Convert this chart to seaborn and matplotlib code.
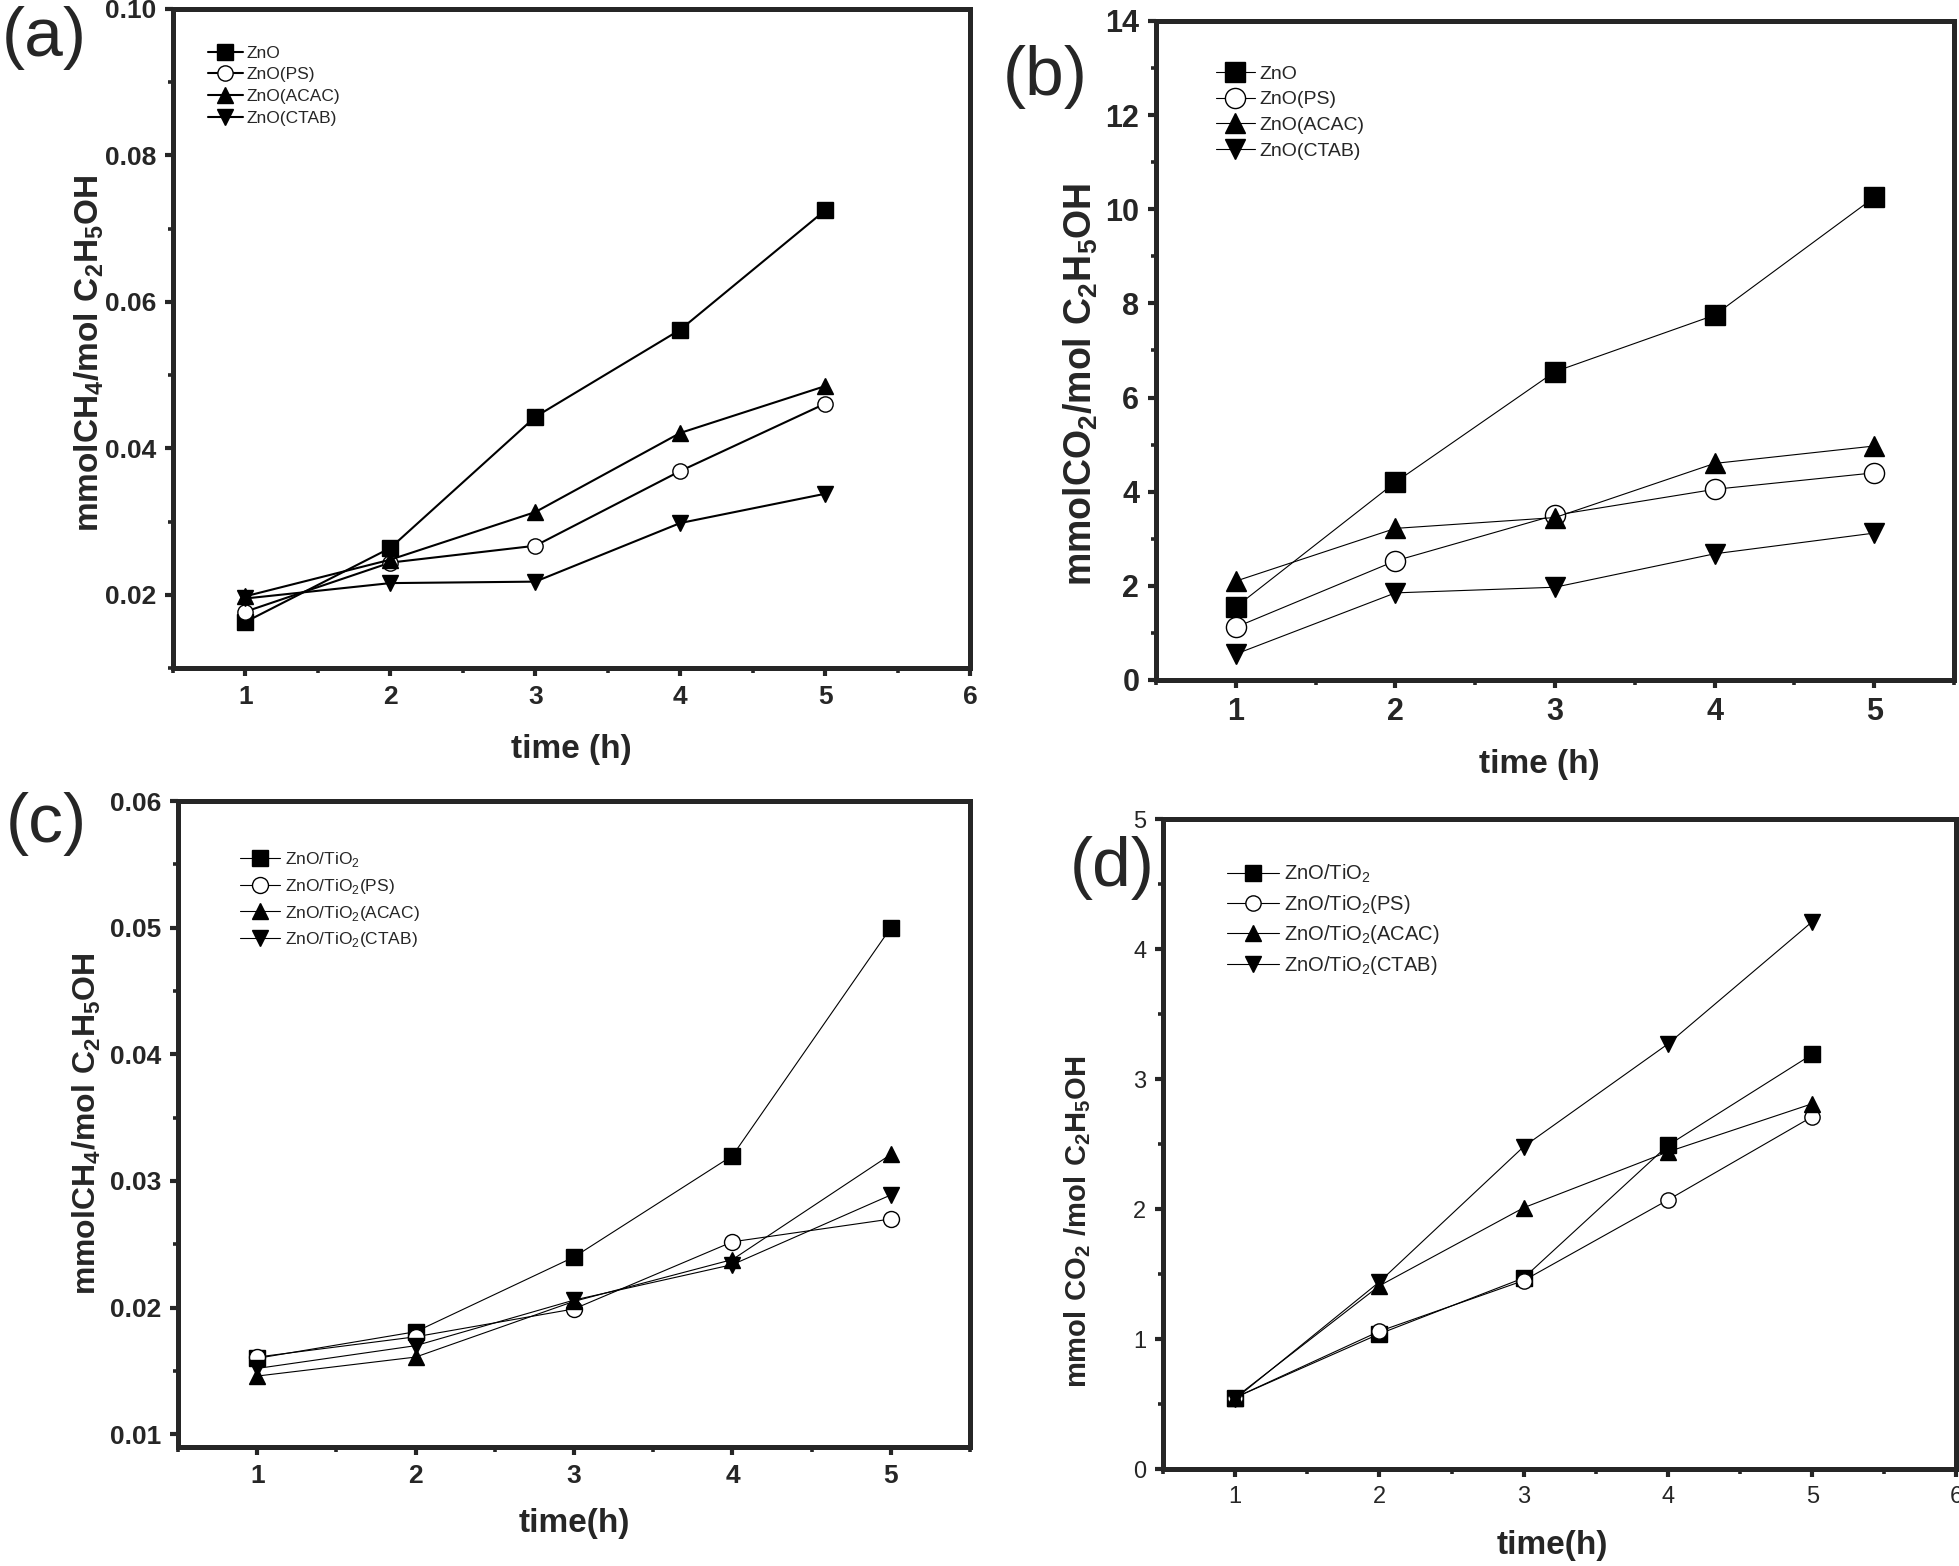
import numpy as np
import pandas as pd
import seaborn as sns
import matplotlib.pyplot as plt
from matplotlib.ticker import MultipleLocator, FormatStrFormatter

sns.set_style('ticks')
plt.rcParams['font.family'] = ['Liberation Sans', 'DejaVu Sans']
plt.rcParams['mathtext.fontset'] = 'custom'
plt.rcParams['mathtext.rm'] = 'Liberation Sans'
plt.rcParams['mathtext.bf'] = 'Liberation Sans:bold'
NARROW = ['Liberation Sans Narrow', 'Liberation Sans', 'DejaVu Sans']

time = [1, 2, 3, 4, 5]

# (a) CH4, ZnO samples
a_zno = [0.0163, 0.0264, 0.0443, 0.0562, 0.0725]
a_ps = [0.0177, 0.0244, 0.0267, 0.0369, 0.0461]
a_acac = [0.0198, 0.0248, 0.0313, 0.0421, 0.0485]
a_ctab = [0.0195, 0.0216, 0.0218, 0.0298, 0.0338]

# (b) CO2, ZnO samples
b_zno = [1.55, 4.20, 6.55, 7.75, 10.25]
b_ps = [1.12, 2.53, 3.50, 4.05, 4.40]
b_acac = [2.10, 3.22, 3.45, 4.60, 4.97]
b_ctab = [0.55, 1.85, 1.97, 2.68, 3.12]

# (c) CH4, ZnO/TiO2 samples
c_zno = [0.0160, 0.0181, 0.0240, 0.0320, 0.0500]
c_ps = [0.0161, 0.0177, 0.0199, 0.0252, 0.0270]
c_acac = [0.0146, 0.0161, 0.0205, 0.0238, 0.0321]
c_ctab = [0.0152, 0.0170, 0.0206, 0.0234, 0.0289]

# (d) CO2, ZnO/TiO2 samples
d_zno = [0.55, 1.04, 1.47, 2.49, 3.19]
d_ps = [0.55, 1.06, 1.45, 2.07, 2.71]
d_acac = [0.55, 1.41, 2.01, 2.44, 2.81]
d_ctab = [0.54, 1.44, 2.48, 3.27, 4.21]

zno_names = ['ZnO', 'ZnO(PS)', 'ZnO(ACAC)', 'ZnO(CTAB)']
tio_names = ['ZnO/TiO$_2$', 'ZnO/TiO$_2$(PS)', 'ZnO/TiO$_2$(ACAC)', 'ZnO/TiO$_2$(CTAB)']
markers = ['s', 'o', '^', 'v']
faces = ['black', 'white', 'black', 'black']

fig = plt.figure(figsize=(19.59, 15.66), dpi=100)


def panel(rect, series, names, ms, lw, xlim, ylim, ymaj, ymin, yfmt,
          ylabel, ylsize, ylpos, xlabel, xlpos, ticksize, tickbold,
          leg_anchor, leg_size, leg_space, leg_hl, tag, tag_xy):
    ax = fig.add_axes(rect)
    for vals, name, m, fc in zip(series, names, markers, faces):
        sns.lineplot(x=time, y=vals, ax=ax, color='black', lw=lw, marker=m,
                     markersize=ms, mfc=fc, mec='black', mew=1.0, label=name)
    ax.set_xlim(*xlim)
    ax.set_ylim(*ylim)
    ax.xaxis.set_major_locator(MultipleLocator(1))
    ax.xaxis.set_minor_locator(MultipleLocator(0.5))
    ax.yaxis.set_major_locator(MultipleLocator(ymaj))
    ax.yaxis.set_minor_locator(MultipleLocator(ymin))
    if yfmt:
        ax.yaxis.set_major_formatter(FormatStrFormatter(yfmt))
    for s in ax.spines.values():
        s.set_linewidth(3.6)
        s.set_visible(True)
    ax.tick_params(which='major', direction='out', length=6, width=3.0,
                   labelsize=ticksize, pad=6)
    ax.tick_params(which='minor', direction='out', length=3.5, width=2.6)
    for t in ax.get_xticklabels() + ax.get_yticklabels():
        t.set_family(NARROW)
        t.set_fontweight('bold' if tickbold else 'normal')
    ax.set_ylabel(ylabel, fontsize=ylsize, fontweight='bold')
    ax.yaxis.set_label_coords(*ylpos)
    ax.set_xlabel(xlabel, fontsize=24, fontweight='bold')
    ax.xaxis.set_label_coords(*xlpos)
    ax.legend(loc='upper left', bbox_to_anchor=leg_anchor, frameon=False,
              fontsize=leg_size, labelspacing=leg_space, handlelength=leg_hl,
              handletextpad=0.25, borderaxespad=0, numpoints=1)
    fig.text(tag_xy[0], tag_xy[1], tag, fontsize=50, ha='left', va='top')
    return ax


panel([0.0883, 0.5734, 0.4069, 0.4209], [a_zno, a_ps, a_acac, a_ctab], zno_names,
      11, 1.5, (0.5, 6), (0.01, 0.10), 0.02, 0.01, '%.2f',
      r'$\mathbf{mmolCH_4/mol\ C_2H_5OH}$', 24, (-0.084, 0.478),
      'time (h)', (0.5, -0.10), 19, True,
      (0.035, 0.955), 12.5, 0.38, 2.0, '(a)', (0.001, 0.996))

panel([0.5901, 0.5658, 0.4073, 0.4208], [b_zno, b_ps, b_acac, b_ctab], zno_names,
      14.5, 0.8, (0.5, 5.5), (0, 14), 2, 1, None,
      r'$\mathbf{mmolCO_2/mol\ C_2H_5OH}$', 27, (-0.070, 0.448),
      'time (h)', (0.48, -0.105), 22, True,
      (0.065, 0.945), 14, 0.42, 2.0, '(b)', (0.512, 0.971))

panel([0.0909, 0.0760, 0.4043, 0.4125], [c_zno, c_ps, c_acac, c_ctab], tio_names,
      11.5, 0.8, (0.5, 5.5), (0.009, 0.06), 0.01, 0.005, '%.2f',
      r'$\mathbf{mmolCH_4/mol\ C_2H_5OH}$', 23, (-0.095, 0.50),
      'time(h)', (0.5, -0.095), 19, True,
      (0.07, 0.935), 12.5, 0.45, 2.3, '(c)', (0.003, 0.494))

panel([0.5937, 0.0619, 0.4050, 0.4151], [d_zno, d_ps, d_acac, d_ctab], tio_names,
      11, 0.8, (0.5, 6), (0, 5), 1, 0.5, None,
      r'$\mathbf{mmol\ CO_2\ /mol\ C_2H_5OH}$', 21, (-0.088, 0.38),
      'time(h)', (0.49, -0.094), 17, False,
      (0.07, 0.945), 14.5, 0.38, 2.6, '(d)', (0.546, 0.466))

fig.savefig('out.png', dpi=100)
